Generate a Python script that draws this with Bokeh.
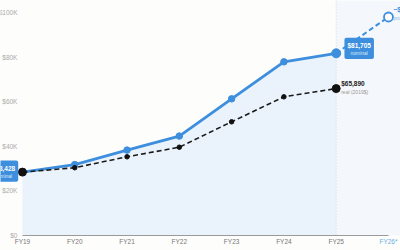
from bokeh.plotting import figure
from bokeh.models import (ColumnDataSource, FixedTicker, Label, BoxAnnotation, Range1d, LinearAxis)
from bokeh.embed import file_html
from bokeh.resources import INLINE

# ---- data ----
years = ["FY19", "FY20", "FY21", "FY22", "FY23", "FY24", "FY25"]
nominal = [28428, 31800, 38300, 44600, 61300, 77900, 81705]
real = [28428, 30400, 35300, 39600, 51000, 62200, 65890]
proj_year = "FY26*"
proj_value = 98000
y_ticks = [0, 20000, 40000, 60000, 80000, 100000]
y_tick_labels = ["$0", "$20K", "$40K", "$60K", "$80K", "$100K"]

xs = list(range(len(years)))
x_proj = len(years)
last = len(years) - 1

BG = "#fdfdfb"
BLUE = "#3d8fde"
FONT = "Liberation Sans"
Y_TOP = 105400

p = figure(width=400, height=250, output_backend="svg", toolbar_location=None,
           x_range=Range1d(-0.42, 7.23), y_range=Range1d(-6730, Y_TOP),
           x_axis_type=None, y_axis_type=None,
           min_border_left=0, min_border_right=0, min_border_top=0, min_border_bottom=0,
           background_fill_color=BG, border_fill_color=BG, outline_line_color=None)

# projected region shading
p.add_layout(BoxAnnotation(left=last, bottom=0, fill_color="#f4f7fb", fill_alpha=1.0,
                           line_color=None, level="underlay"))

src = ColumnDataSource(dict(x=xs, nominal=nominal, real=real, zero=[0] * len(xs)))
p.varea(x="x", y1="zero", y2="nominal", source=src, fill_color="#eaf2fb", fill_alpha=1.0)

p.segment(x0=[last], y0=[0], x1=[last], y1=[Y_TOP], line_color="#c9d8ea", line_dash="1 2", line_width=1)

# projection
psrc = ColumnDataSource(dict(x=[last, x_proj], y=[nominal[-1], proj_value]))
p.line(x="x", y="y", source=psrc, line_color=BLUE, line_width=2, line_dash="5 3")
p.scatter(x=[x_proj], y=[proj_value], size=9, marker="circle", fill_color="white",
          line_color=BLUE, line_width=1.8)

# nominal
p.line(x="x", y="nominal", source=src, line_color=BLUE, line_width=2.8)
p.scatter(x="x", y="nominal", source=src, size=6.5, fill_color=BLUE, line_color=BLUE)
p.scatter(x=[xs[-1]], y=[nominal[-1]], size=9, fill_color=BLUE, line_color=BLUE)

# real
p.line(x="x", y="real", source=src, line_color="#1a1a1a", line_width=1.6, line_dash="5 3")
p.scatter(x="x", y="real", source=src, size=4.5, fill_color="#111111", line_color="#111111")
p.scatter(x=[xs[0], xs[-1]], y=[real[0], real[-1]], size=8, fill_color="#111111", line_color="#111111")

def style_axis(ax, color):
    ax.major_tick_line_color = None
    ax.minor_tick_line_color = None
    ax.major_tick_out = 0
    ax.major_tick_in = 0
    ax.minor_tick_out = 0
    ax.minor_tick_in = 0
    ax.major_label_text_font = FONT
    ax.major_label_text_font_size = "6.5px"
    ax.major_label_text_color = color

# x axis (actual years)
xa = LinearAxis(fixed_location=0, ticker=FixedTicker(ticks=xs, minor_ticks=[]),
                major_label_overrides={i: t for i, t in zip(xs, years)},
                bounds=(0, x_proj), axis_line_color="#9a9a9a", axis_line_width=1,
                major_label_standoff=3)
style_axis(xa, "#777777")
p.add_layout(xa, "below")

# x axis (projected year)
xp = LinearAxis(fixed_location=0, ticker=FixedTicker(ticks=[x_proj], minor_ticks=[]),
                major_label_overrides={x_proj: proj_year}, axis_line_color=None,
                major_label_standoff=3)
style_axis(xp, "#6aaee6")
p.add_layout(xp, "below")

# y axis
ya = LinearAxis(fixed_location=0, ticker=FixedTicker(ticks=y_ticks, minor_ticks=[]),
                major_label_overrides={t: l for t, l in zip(y_ticks, y_tick_labels)},
                axis_line_color=None, major_label_standoff=5)
style_axis(ya, "#aaaaaa")
p.add_layout(ya, "left")

p.xgrid.grid_line_color = None
p.ygrid.grid_line_color = None

# nominal boxes
def box_label(x, y, xo, yo, v_text, sub_text):
    p.add_layout(Label(x=x, y=y, x_offset=xo, y_offset=yo, text="$00,000\nnomi", text_align="center",
                       text_baseline="middle", text_font=FONT, text_font_size="6.5px",
                       text_color=BLUE, background_fill_color=BLUE, background_fill_alpha=1.0,
                       padding=3, border_radius=2))
    p.add_layout(Label(x=x, y=y, x_offset=xo, y_offset=yo + 3, text=v_text, text_align="center",
                       text_baseline="middle", text_font=FONT, text_font_size="6.5px",
                       text_font_style="bold", text_color="white"))
    p.add_layout(Label(x=x, y=y, x_offset=xo, y_offset=yo - 5, text=sub_text, text_align="center",
                       text_baseline="middle", text_font=FONT, text_font_size="5px",
                       text_color="#dbe9f8"))

box_label(xs[0], nominal[0], -19, 1, "$" + format(nominal[0], ","), "nominal")
box_label(xs[-1], nominal[-1], 23, 5, "$" + format(nominal[-1], ","), "nominal")

# real label
p.add_layout(Label(x=xs[-1], y=real[-1], x_offset=5, y_offset=5, text="$" + format(real[-1], ","),
                   text_align="left", text_baseline="middle", text_font=FONT, text_font_size="6.5px",
                   text_font_style="bold", text_color="#222222"))
p.add_layout(Label(x=xs[-1], y=real[-1], x_offset=5, y_offset=-3, text="real (2019$)",
                   text_align="left", text_baseline="middle", text_font=FONT, text_font_size="5px",
                   text_color="#999999"))

# projection label
p.add_layout(Label(x=x_proj, y=proj_value, x_offset=5, y_offset=7, text="~$" + format(proj_value, ","),
                   text_align="left", text_baseline="middle", text_font=FONT, text_font_size="6.5px",
                   text_font_style="bold", text_color=BLUE))
p.add_layout(Label(x=x_proj, y=proj_value, x_offset=5, y_offset=-1, text="projected",
                   text_align="left", text_baseline="middle", text_font=FONT, text_font_size="5px",
                   text_color="#8ab6e0"))

open("out.html", "w").write(file_html(p, INLINE))
